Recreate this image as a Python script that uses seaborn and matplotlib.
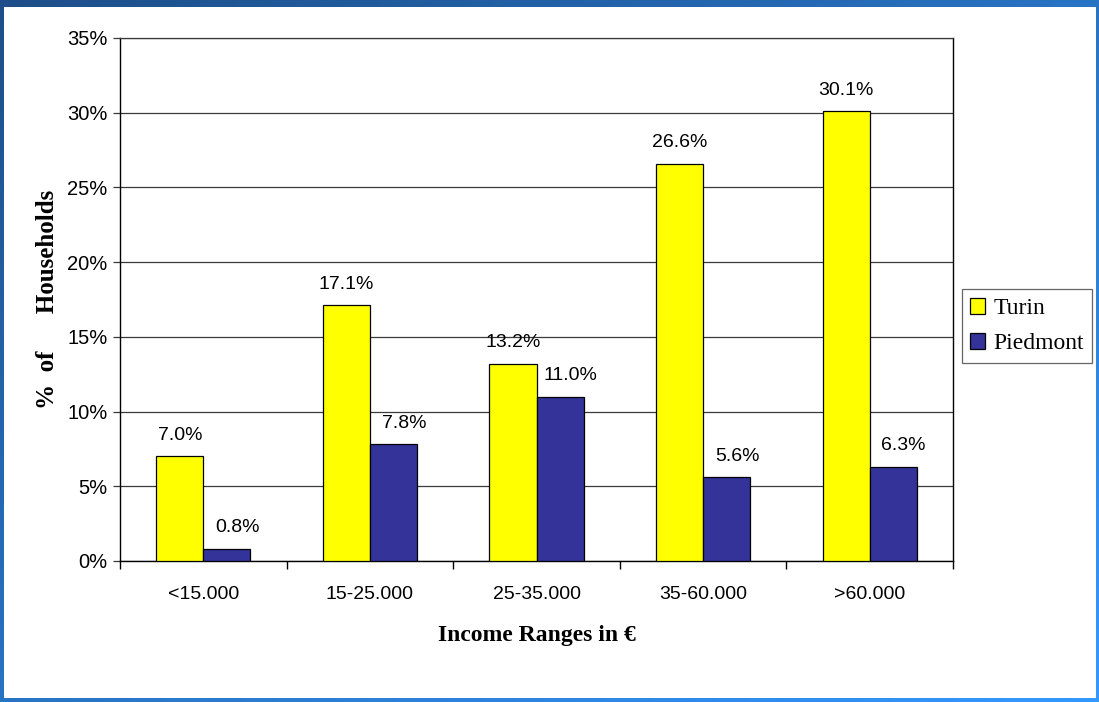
import numpy as np
import pandas as pd
import matplotlib
matplotlib.use("Agg")
import matplotlib.pyplot as plt
from matplotlib.patches import Rectangle, Patch
from matplotlib.colors import LinearSegmentedColormap
from matplotlib.ticker import FuncFormatter, FixedLocator
import seaborn as sns

# Household income distribution data (% of households)
income_ranges = ["<15.000", "15-25.000", "25-35.000", "35-60.000", ">60.000"]
turin = [7.0, 17.1, 13.2, 26.6, 30.1]
piedmont = [0.8, 7.8, 11.0, 5.6, 6.3]
series_names = ["Turin", "Piedmont"]
series_colors = ["#FFFF00", "#333399"]

df = pd.DataFrame({
    "range": income_ranges * 2,
    "area": [series_names[0]] * len(turin) + [series_names[1]] * len(piedmont),
    "value": turin + piedmont,
})

sns.set_theme(style="white")
plt.rcParams["font.family"] = ["Liberation Sans", "DejaVu Sans"]
plt.rcParams["text.color"] = "black"
plt.rcParams["axes.labelcolor"] = "black"
plt.rcParams["xtick.color"] = "black"
plt.rcParams["ytick.color"] = "black"

W, H = 1099, 702
fig = plt.figure(figsize=(W / 100, H / 100), dpi=100)

# Gradient frame around the figure
bg = fig.add_axes([0, 0, 1, 1], zorder=-10)
yy, xx = np.mgrid[0:H, 0:W]
t = (xx / W + yy / H) / 2.0
cmap = LinearSegmentedColormap.from_list("frame", ["#1d4e89", "#3399ff"])
bg.imshow(t, cmap=cmap, extent=[0, W, H, 0], aspect="auto", interpolation="bilinear")
bg.add_patch(Rectangle((4, 7), W - 4 - 3, H - 7 - 4, facecolor="white", edgecolor="none"))
bg.set_xlim(0, W)
bg.set_ylim(H, 0)
bg.axis("off")

ax = fig.add_axes([120 / W, (H - 561) / H, (953 - 120) / W, (561 - 38) / H])
ax.set_facecolor("white")

sns.barplot(data=df, x="range", y="value", hue="area", order=income_ranges,
            hue_order=series_names, palette=series_colors, width=0.565,
            edgecolor="black", linewidth=0.9, saturation=1, ax=ax, legend=False,
            zorder=3)

ax.set_ylim(0, 35)
ax.set_xlim(-0.5, len(income_ranges) - 0.5)
ax.yaxis.set_major_locator(FixedLocator(np.arange(0, 36, 5)))
ax.yaxis.set_major_formatter(FuncFormatter(lambda v, p: f"{v:.0f}%"))
ax.grid(axis="y", color="#3a3a3a", linewidth=0.9, zorder=0)
ax.set_axisbelow(True)

for s in ["left", "right", "bottom"]:
    ax.spines[s].set_visible(True)
    ax.spines[s].set_color("black")
    ax.spines[s].set_linewidth(1.0)
ax.spines["top"].set_visible(True)
ax.spines["top"].set_color("#3a3a3a")
ax.spines["top"].set_linewidth(0.9)

ax.tick_params(axis="y", which="major", direction="out", length=5, width=0.9,
               color="#3a3a3a", pad=4, labelsize=14.5, left=True,
               labelcolor="black")
ax.tick_params(axis="x", which="major", length=0, pad=18, labelsize=14,
               labelcolor="black")
ax.set_xticks(np.arange(-0.5, len(income_ranges)), minor=True)
ax.tick_params(axis="x", which="minor", direction="out", length=6, width=1.0,
               color="black", bottom=True)

# Value labels above each bar; the second series' labels sit a little to the right
label_shift = [0, 7.5]
for container, dx in zip(ax.containers, label_shift):
    for bar in container:
        h = bar.get_height()
        ax.annotate(f"{h:.1f}%", (bar.get_x() + bar.get_width() / 2, h),
                    xytext=(dx, 12), textcoords="offset points",
                    ha="center", va="baseline", fontsize=14, color="black",
                    zorder=5)

serif = ["Liberation Serif", "DejaVu Serif"]
ax.set_xlabel("Income Ranges in €", fontsize=17, fontweight="bold",
              family=serif, labelpad=16, color="black")
ax.set_ylabel("%  of      Households", fontsize=18, fontweight="bold",
              family=serif, labelpad=6, color="black")

handles = [Patch(facecolor=c, edgecolor="black", linewidth=0.9) for c in series_colors]
leg = fig.legend(handles, series_names, loc="center",
                 bbox_to_anchor=(1027 / W, 1 - 326 / H),
                 prop={"family": serif, "size": 17}, frameon=True,
                 fancybox=False, shadow=False, handlelength=0.65,
                 handleheight=0.65, handletextpad=0.35, labelspacing=0.6,
                 borderpad=0.35, borderaxespad=0)
leg.get_frame().set_edgecolor("#404040")
leg.get_frame().set_linewidth(0.9)
for txt in leg.get_texts():
    txt.set_color("black")

fig.savefig("out.png", dpi=100)
